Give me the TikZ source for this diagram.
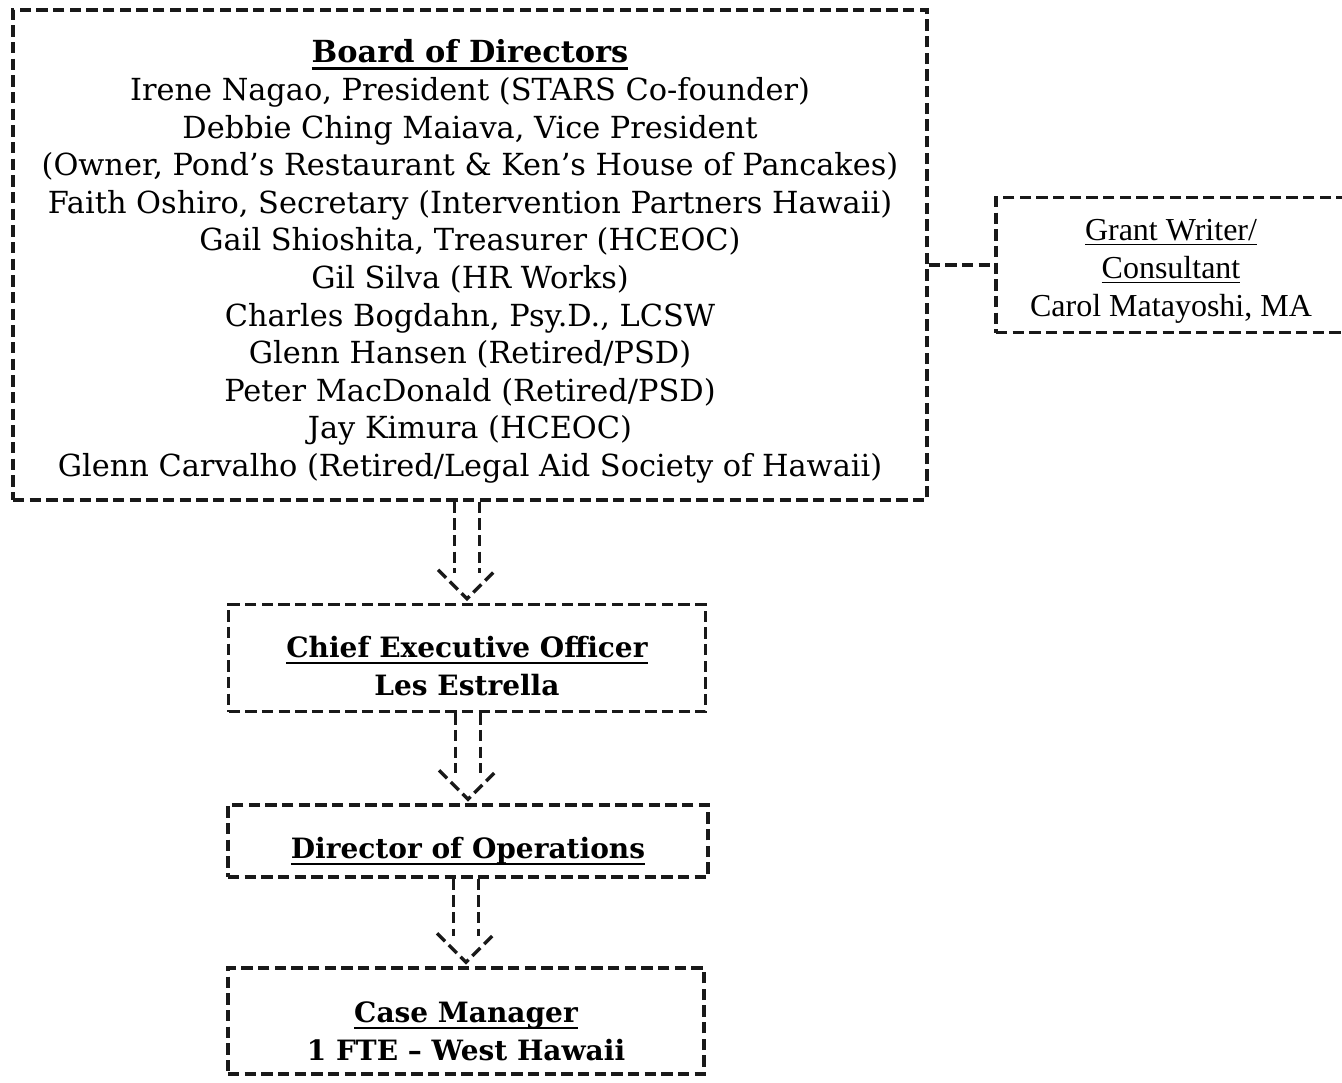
\documentclass[tikz,border=0pt]{standalone}
\usepackage{fontspec}
\setmainfont{DejaVu Serif}
\newfontfamily\timesfont{Liberation Serif}
\usetikzlibrary{calc}
\newcommand\myul[1]{\setbox0\hbox{#1}\rlap{\vrule height -3.4pt depth 5.0pt width \wd0}\box0}
\newcommand\thinul[1]{\setbox0\hbox{#1}\rlap{\vrule height -3pt depth 3.9pt width \wd0}\box0}
\tikzset{
  dsh/.style={line width=2.6pt, dash pattern=on 8.5pt off 4pt, black!90},
  orgbox/.style={dsh, draw, rectangle, inner sep=0pt},
  txt/.style={inner sep=0pt, align=center},
  boardtxt/.style={txt, font=\fontsize{22.8}{28.2}\selectfont},
  bigtxt/.style={txt, font=\fontsize{21}{28.5}\selectfont\bfseries},
}
\newcommand\orgarrow[2]{%
  \draw[dsh] ($(#1.south -| #2.north)+(-12.5,0)$) -- ($(#2.north)+(-12.5,-30)$);
  \draw[dsh] ($(#1.south -| #2.north)+(12.5,0)$) -- ($(#2.north)+(12.5,-30)$);
  \draw[dsh] ($(#2.north)+(-29,-33)$) -- ($(#2.north)+(0,-4)$) -- ($(#2.north)+(29,-33)$);
}
\begin{document}
\begin{tikzpicture}[x=0.75pt,y=-0.75pt]
\useasboundingbox (0,0) rectangle (1342,1082);
\fill[white] (0,0) rectangle (1342,1082);
\node[orgbox, minimum width=685.5pt, minimum height=367.5pt] (board) at (470,255) {};
\node[boardtxt] (boardt) at ($(board.center)+(0,6.5)$)
 {\textbf{\myul{Board of Directors}}\\
  Irene Nagao, President (STARS Co-founder)\\
  Debbie Ching Maiava, Vice President\\
  (Owner, Pond's Restaurant \& Ken's House of Pancakes)\\
  Faith Oshiro, Secretary (Intervention Partners Hawaii)\\
  Gail Shioshita, Treasurer (HCEOC)\\
  Gil Silva (HR Works)\\
  Charles Bogdahn, Psy.D., LCSW\\
  Glenn Hansen (Retired/PSD)\\
  Peter MacDonald (Retired/PSD)\\
  Jay Kimura (HCEOC)\\
  Glenn Carvalho (Retired/Legal Aid Society of Hawaii)};
\node[orgbox, minimum width=262.5pt, minimum height=101.25pt] (grant) at (1171,265) {};
\node[txt, font=\timesfont\fontsize{24}{28.5}\selectfont] (grantt) at ($(grant.center)+(0,6)$)
 {\thinul{Grant Writer/}\\ \thinul{Consultant}\\ Carol Matayoshi, MA};
\node[orgbox, minimum width=357.75pt, minimum height=80.25pt] (ceo) at (467,658) {};
\node[bigtxt] (ceot) at ($(ceo.center)+(0,8)$) {\myul{Chief Executive Officer}\\ Les Estrella};
\node[orgbox, minimum width=360pt, minimum height=54pt] (dir) at (468,841) {};
\node[bigtxt] (dirt) at ($(dir.center)+(0,10)$) {\myul{Director of Operations}};
\node[orgbox, minimum width=357pt, minimum height=79.5pt] (cm) at (466,1021) {};
\node[bigtxt] (cmt) at ($(cm.center)+(0,10)$) {\myul{Case Manager}\\ 1 FTE -- West Hawaii};
\draw[dsh] (board.east |- grant.west) -- (grant.west);
\orgarrow{board}{ceo}
\orgarrow{ceo}{dir}
\orgarrow{dir}{cm}
\end{tikzpicture}
\end{document}
